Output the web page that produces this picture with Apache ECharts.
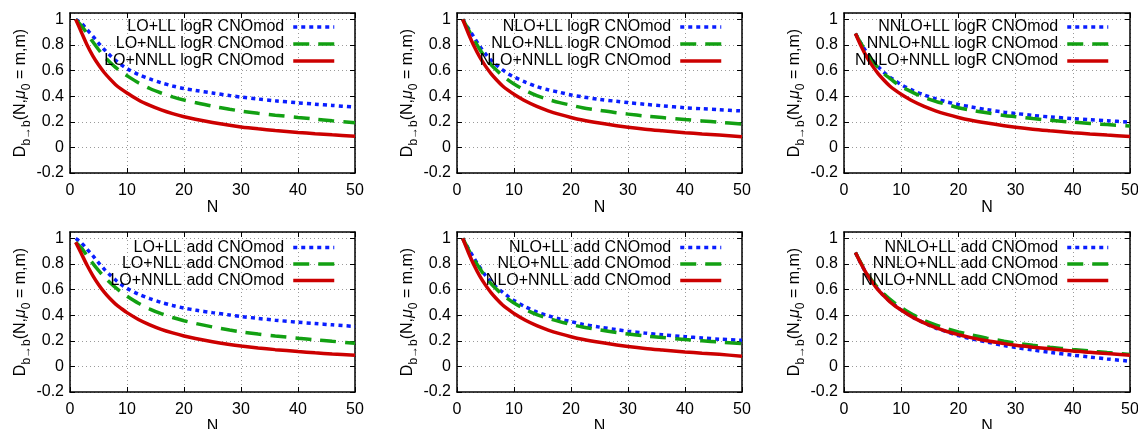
<!DOCTYPE html>
<html>
<head>
<meta charset="utf-8">
<script src="https://cdn.jsdelivr.net/npm/echarts@6/dist/echarts.min.js"></script>
<style>
  html, body { margin: 0; padding: 0; background: #fff; }
  #chart { width: 1138px; height: 429px; }
</style>
</head>
<body>
<div id="chart"></div>
<script>
// N values (LO / NLO curves start at N=1, NNLO curves at N=2)
var nFrom1 = [1, 2, 3, 4, 5, 6, 7, 8, 9, 10, 12, 14, 16, 18, 20, 22, 25, 28, 30, 33, 36, 40, 43, 46, 50];
var nFrom2 = [2, 3, 4, 5, 6, 7, 8, 9, 10, 12, 14, 16, 18, 20, 22, 25, 28, 30, 33, 36, 40, 43, 46, 50];

var yTicks = [-0.2, 0, 0.2, 0.4, 0.6, 0.8, 1];
var xTicks = [0, 10, 20, 30, 40, 50];

// LO logR
var loLogR_LL   = [1.0, 0.97, 0.92, 0.87, 0.815, 0.765, 0.72, 0.68, 0.645, 0.615, 0.57, 0.535, 0.505, 0.48, 0.46, 0.445, 0.425, 0.405, 0.393, 0.378, 0.364, 0.348, 0.338, 0.328, 0.315];
var loLogR_NLL  = [1.0, 0.95, 0.89, 0.825, 0.765, 0.71, 0.665, 0.625, 0.59, 0.56, 0.505, 0.46, 0.425, 0.395, 0.37, 0.35, 0.322, 0.298, 0.284, 0.267, 0.252, 0.234, 0.221, 0.208, 0.192];
var loLogR_NNLL = [1.0, 0.90, 0.80, 0.715, 0.645, 0.585, 0.535, 0.49, 0.455, 0.425, 0.37, 0.328, 0.293, 0.264, 0.24, 0.22, 0.195, 0.173, 0.16, 0.145, 0.132, 0.117, 0.107, 0.098, 0.088];
// NLO logR
var nloLogR_LL   = [1.0, 0.93, 0.86, 0.79, 0.73, 0.68, 0.64, 0.605, 0.575, 0.55, 0.51, 0.475, 0.45, 0.43, 0.41, 0.395, 0.375, 0.36, 0.35, 0.337, 0.325, 0.31, 0.302, 0.294, 0.285];
var nloLogR_NLL  = [1.0, 0.92, 0.84, 0.765, 0.70, 0.645, 0.60, 0.56, 0.525, 0.495, 0.445, 0.405, 0.375, 0.35, 0.33, 0.31, 0.29, 0.27, 0.26, 0.245, 0.233, 0.218, 0.207, 0.196, 0.182];
var nloLogR_NNLL = [1.0, 0.89, 0.79, 0.705, 0.635, 0.575, 0.525, 0.48, 0.445, 0.415, 0.362, 0.32, 0.286, 0.258, 0.234, 0.214, 0.19, 0.169, 0.157, 0.142, 0.13, 0.115, 0.105, 0.096, 0.084];
// NNLO logR
var nnloLogR_LL   = [0.89, 0.81, 0.74, 0.68, 0.63, 0.585, 0.55, 0.52, 0.49, 0.445, 0.41, 0.38, 0.355, 0.335, 0.318, 0.295, 0.275, 0.265, 0.25, 0.238, 0.225, 0.216, 0.208, 0.198];
var nnloLogR_NLL  = [0.89, 0.81, 0.735, 0.675, 0.62, 0.575, 0.54, 0.505, 0.475, 0.43, 0.39, 0.36, 0.335, 0.31, 0.293, 0.27, 0.25, 0.24, 0.225, 0.212, 0.197, 0.187, 0.178, 0.167];
var nnloLogR_NNLL = [0.89, 0.79, 0.705, 0.635, 0.575, 0.525, 0.48, 0.445, 0.415, 0.362, 0.32, 0.286, 0.258, 0.234, 0.214, 0.19, 0.169, 0.157, 0.142, 0.13, 0.115, 0.105, 0.096, 0.086];
// LO add
var loAdd_LL   = [1.0, 0.965, 0.915, 0.865, 0.81, 0.76, 0.715, 0.675, 0.64, 0.61, 0.565, 0.53, 0.5, 0.476, 0.456, 0.44, 0.42, 0.402, 0.39, 0.375, 0.361, 0.345, 0.335, 0.325, 0.312];
var loAdd_NLL  = [0.97, 0.925, 0.865, 0.805, 0.75, 0.70, 0.655, 0.615, 0.58, 0.548, 0.493, 0.448, 0.412, 0.382, 0.357, 0.336, 0.308, 0.284, 0.27, 0.253, 0.238, 0.22, 0.208, 0.196, 0.181];
var loAdd_NNLL = [0.97, 0.88, 0.79, 0.71, 0.64, 0.58, 0.53, 0.487, 0.452, 0.42, 0.367, 0.325, 0.29, 0.262, 0.238, 0.218, 0.193, 0.171, 0.159, 0.144, 0.131, 0.116, 0.106, 0.097, 0.087];
// NLO add
var nloAdd_LL   = [1.0, 0.92, 0.845, 0.775, 0.71, 0.66, 0.615, 0.58, 0.545, 0.515, 0.465, 0.425, 0.395, 0.37, 0.35, 0.33, 0.307, 0.287, 0.275, 0.26, 0.247, 0.232, 0.222, 0.213, 0.204];
var nloAdd_NLL  = [1.0, 0.915, 0.835, 0.765, 0.70, 0.645, 0.60, 0.56, 0.525, 0.495, 0.445, 0.405, 0.375, 0.35, 0.328, 0.308, 0.285, 0.265, 0.253, 0.238, 0.226, 0.21, 0.2, 0.19, 0.178];
var nloAdd_NNLL = [1.0, 0.89, 0.79, 0.705, 0.635, 0.575, 0.525, 0.48, 0.445, 0.413, 0.36, 0.318, 0.284, 0.256, 0.232, 0.212, 0.188, 0.167, 0.155, 0.14, 0.128, 0.113, 0.103, 0.094, 0.080];
// NNLO add
var nnloAdd_LL   = [0.89, 0.80, 0.72, 0.655, 0.60, 0.55, 0.51, 0.475, 0.44, 0.385, 0.34, 0.30, 0.27, 0.24, 0.218, 0.19, 0.163, 0.148, 0.128, 0.11, 0.088, 0.073, 0.058, 0.04];
var nnloAdd_NLL  = [0.89, 0.805, 0.73, 0.665, 0.61, 0.565, 0.525, 0.49, 0.46, 0.405, 0.36, 0.325, 0.295, 0.27, 0.248, 0.22, 0.197, 0.183, 0.165, 0.15, 0.132, 0.12, 0.108, 0.093];
var nnloAdd_NNLL = [0.89, 0.80, 0.72, 0.655, 0.595, 0.55, 0.505, 0.47, 0.44, 0.385, 0.34, 0.303, 0.273, 0.248, 0.227, 0.2, 0.178, 0.165, 0.15, 0.137, 0.12, 0.11, 0.1, 0.088];

var panels = [
  { n: nFrom1, names: ['LO+LL logR CNOmod', 'LO+NLL logR CNOmod', 'LO+NNLL logR CNOmod'], data: [loLogR_LL, loLogR_NLL, loLogR_NNLL] },
  { n: nFrom1, names: ['NLO+LL logR CNOmod', 'NLO+NLL logR CNOmod', 'NLO+NNLL logR CNOmod'], data: [nloLogR_LL, nloLogR_NLL, nloLogR_NNLL] },
  { n: nFrom2, names: ['NNLO+LL logR CNOmod', 'NNLO+NLL logR CNOmod', 'NNLO+NNLL logR CNOmod'], data: [nnloLogR_LL, nnloLogR_NLL, nnloLogR_NNLL] },
  { n: nFrom1, names: ['LO+LL add CNOmod', 'LO+NLL add CNOmod', 'LO+NNLL add CNOmod'], data: [loAdd_LL, loAdd_NLL, loAdd_NNLL] },
  { n: nFrom1, names: ['NLO+LL add CNOmod', 'NLO+NLL add CNOmod', 'NLO+NNLL add CNOmod'], data: [nloAdd_LL, nloAdd_NLL, nloAdd_NNLL] },
  { n: nFrom2, names: ['NNLO+LL add CNOmod', 'NNLO+NLL add CNOmod', 'NNLO+NNLL add CNOmod'], data: [nnloAdd_LL, nnloAdd_NLL, nnloAdd_NNLL] }
];

var FONT = '"Liberation Sans", Arial, Helvetica, sans-serif';
var colors = ['#0a1eff', '#12a012', '#cc0000'];
var dashes = [[4, 4], [16, 9], 'solid'];

var gridLeft = [70, 457, 844];
var gridWidth = [285, 285, 286];
var gridTop = [13, 232];
var legendRight = [802, 415, 28];
var legendRows = [[27, 44, 61], [247.5, 264, 280.5]];

function pairs(xs, ys) {
  return xs.map(function (x, k) { return [x, ys[k]]; });
}

var option = { animation: false, grid: [], xAxis: [], yAxis: [], legend: [], series: [] };

panels.forEach(function (p, i) {
  var col = i % 3, row = Math.floor(i / 3);
  // outerBoundsMode none: keep the plot boxes where they are even if labels run off the page
  option.grid.push({ left: gridLeft[col], top: gridTop[row], width: gridWidth[col], height: 160, outerBoundsMode: 'none' });

  var tick = { show: true, inside: true, length: 5, lineStyle: { color: '#000', width: 1 } };
  var frame = { show: true, onZero: false, lineStyle: { color: '#000', width: 1.5 } };
  var grid = { show: true, lineStyle: { color: '#9a9a9a', width: 1, type: [1, 3] } };

  option.xAxis.push({
    gridIndex: i, type: 'value', min: 0, max: 50, interval: 10, position: 'bottom',
    name: 'N', nameLocation: 'middle', nameGap: 26,
    nameTextStyle: { fontSize: 16, color: '#000', fontFamily: FONT },
    axisLine: frame, axisTick: tick, splitLine: grid,
    axisLabel: { fontSize: 16, color: '#000', fontFamily: FONT, margin: 10 }
  });
  option.xAxis.push({
    gridIndex: i, type: 'value', min: 0, max: 50, interval: 10, position: 'top',
    axisLine: frame, axisTick: tick, splitLine: { show: false }, axisLabel: { show: false }
  });
  option.yAxis.push({
    gridIndex: i, type: 'value', min: -0.2, max: 1.05, interval: 0.2, position: 'left',
    name: '{a|D}{b|b→b}{a|(N,}{m|μ}{b|0}{a| = m,m)}',
    nameLocation: 'middle', nameGap: 37, nameRotate: 90,
    nameTextStyle: {
      color: '#000', fontFamily: FONT,
      rich: {
        a: { fontSize: 16, lineHeight: 24, verticalAlign: 'middle', fontFamily: FONT, color: '#000' },
        m: { fontSize: 16, lineHeight: 24, verticalAlign: 'middle', fontStyle: 'italic', fontFamily: FONT, color: '#000' },
        b: { fontSize: 12, lineHeight: 24, verticalAlign: 'bottom', fontFamily: FONT, color: '#000' }
      }
    },
    axisLine: frame, axisTick: tick, splitLine: grid,
    axisLabel: {
      fontSize: 16, color: '#000', fontFamily: FONT, margin: 6, showMaxLabel: false,
      formatter: function (v) { return yTicks.indexOf(Math.round(v * 10) / 10) >= 0 ? String(Math.round(v * 10) / 10) : ''; }
    }
  });
  option.yAxis.push({
    gridIndex: i, type: 'value', min: -0.2, max: 1.05, interval: 0.2, position: 'right',
    axisLine: frame, axisTick: tick, splitLine: { show: false }, axisLabel: { show: false }
  });

  p.names.forEach(function (name, s) {
    option.series.push({
      name: name, type: 'line', xAxisIndex: 2 * i, yAxisIndex: 2 * i,
      data: pairs(p.n, p.data[s]), symbol: 'none', smooth: 0.3,
      lineStyle: { color: colors[s], width: 3.5, type: dashes[s], cap: 'butt' },
      itemStyle: { color: colors[s] }
    });
    option.legend.push({
      data: [name], orient: 'vertical', align: 'right',
      right: legendRight[col], top: legendRows[row][s] - 8,
      padding: 0, itemWidth: 41, itemHeight: 14, selectedMode: false,
      itemStyle: { opacity: 0 },
      lineStyle: { color: colors[s], width: 3.5, type: dashes[s], cap: 'butt' },
      textStyle: { fontSize: 16, lineHeight: 16, color: '#000', fontFamily: FONT, padding: [0, 4, 0, 0] }
    });
  });
});

var myChart = echarts.init(document.getElementById('chart'));
myChart.setOption(option);
</script>
</body>
</html>
